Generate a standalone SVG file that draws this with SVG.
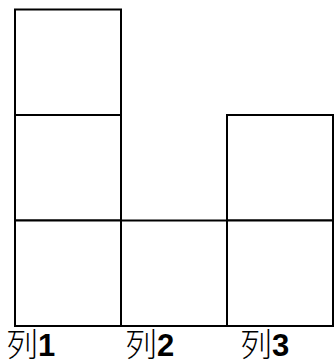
<svg xmlns="http://www.w3.org/2000/svg" width="335" height="362" viewBox="0 0 335 362">
<style>
.cell{fill:#fff;stroke:#000;stroke-width:2}
.lbl{font-family:"Liberation Sans","Noto Sans CJK SC",sans-serif;font-size:31px;font-weight:bold;fill:#000}
.cjk{font-weight:300;font-size:32px}
</style>
<rect width="335" height="362" fill="#fff"/>
<g id="col1">
<rect class="cell" x="15" y="9.5" width="106" height="105.5"/>
<rect class="cell" x="15" y="115" width="106" height="105.5"/>
<rect class="cell" x="15" y="220.5" width="106" height="105.5"/>
</g>
<g id="col2">
<rect class="cell" x="121" y="220.5" width="106" height="105.5"/>
</g>
<g id="col3">
<rect class="cell" x="227" y="115" width="106" height="105.5"/>
<rect class="cell" x="227" y="220.5" width="106" height="105.5"/>
</g>
<g id="labels">
<text class="lbl" x="6" y="356"><tspan class="cjk">列</tspan>1</text>
<text class="lbl" x="125" y="356"><tspan class="cjk">列</tspan>2</text>
<text class="lbl" x="240" y="356"><tspan class="cjk">列</tspan>3</text>
</g>
</svg>
